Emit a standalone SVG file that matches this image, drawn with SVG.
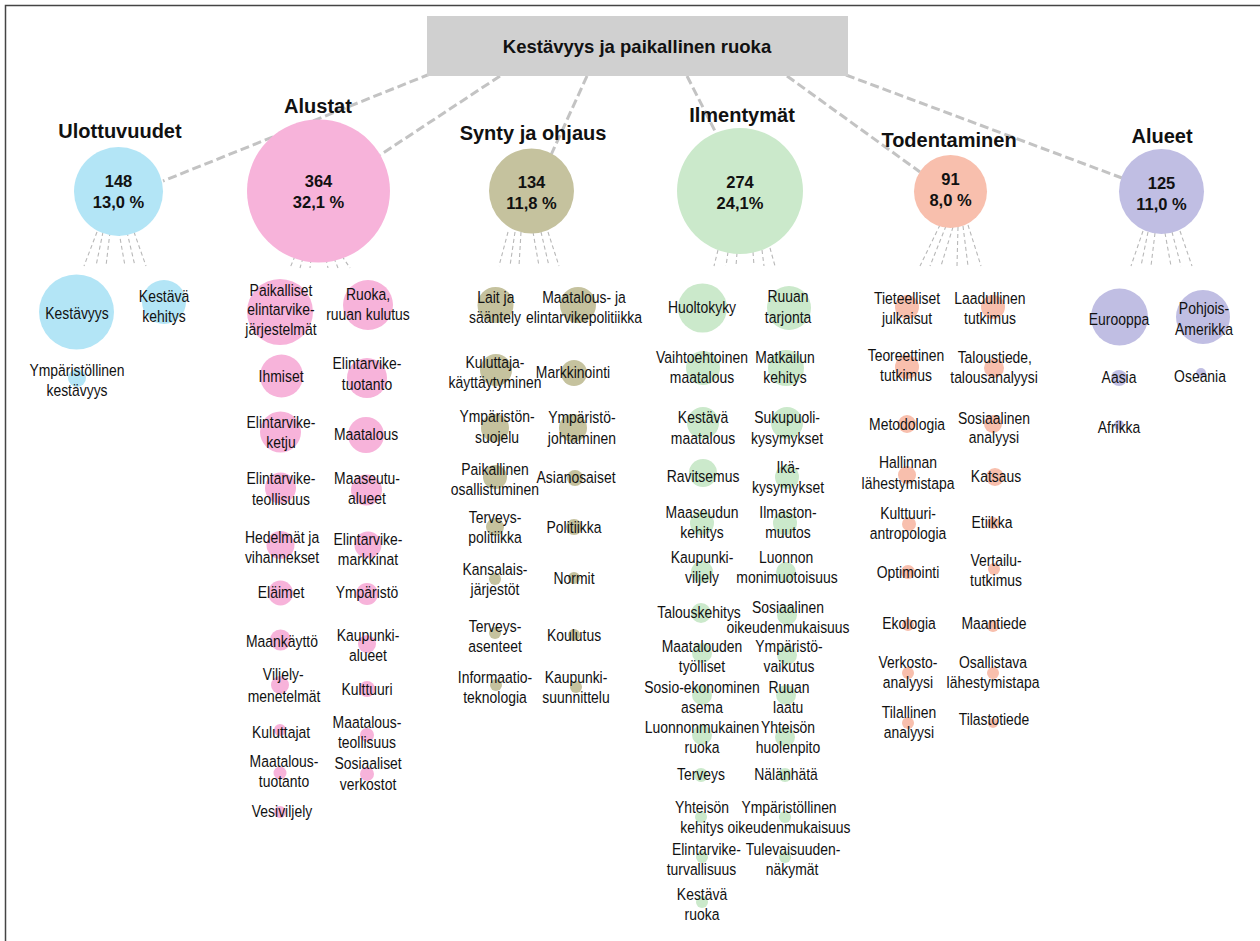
<svg xmlns="http://www.w3.org/2000/svg" width="1260" height="941" viewBox="0 0 1260 941">
<style>
.frame{fill:none;stroke:#444;stroke-width:1.5}
.main{stroke:#c3c3c3;stroke-width:3;stroke-dasharray:9 4;fill:none}
.sub{stroke:#b8b8b8;stroke-width:1.1;stroke-dasharray:4 3;fill:none}
.u{fill:#b3e5f6}.a{fill:#f7b3da}.s{fill:#c5c29e}.i{fill:#cbe9cb}.t{fill:#f8bfad}.r{fill:#c0bee3}
.cat{font-family:"Liberation Sans",Arial,sans-serif;font-weight:bold;font-size:20px;text-anchor:middle;fill:#111}
.num{font-family:"Liberation Sans",Arial,sans-serif;font-weight:bold;font-size:16.5px;text-anchor:middle;fill:#111}
.lbl{font-family:"Liberation Sans",Arial,sans-serif;font-size:17px;text-anchor:middle;fill:#111;transform-box:fill-box;transform-origin:center;transform:scaleX(0.82)}
.title{font-family:"Liberation Sans",Arial,sans-serif;font-weight:bold;font-size:18.5px;text-anchor:middle;fill:#111}
</style>
<rect class="frame" x="5.5" y="5.5" width="1300" height="1000"/>
<g id="connectors">
<line class="main" x1="430" y1="74" x2="163" y2="181"/>
<line class="main" x1="500" y1="76" x2="380" y2="155"/>
<line class="main" x1="587" y1="76" x2="551" y2="155"/>
<line class="main" x1="687" y1="76" x2="716" y2="133"/>
<line class="main" x1="787" y1="76" x2="920" y2="172"/>
<line class="main" x1="846" y1="75" x2="1122" y2="178"/>
<path class="sub" d="M97 232L84 266M103 232L96 266M110 232L106 266M119 232L125 266M127 232L135 266M134 232L146 266"/>
<path class="sub" d="M295 256L290 268M303 258L300 268M311 259L310 268M326 259L328 268M334 258L338 268M342 256L350 268"/>
<path class="sub" d="M508 232L499 266M515 232L510 266M521 232L519 266M533 232L539 266M541 232L549 266M548 232L559 266"/>
<path class="sub" d="M718 250L714 266M728 252L726 266M737 253L736 266M753 252L754 266M762 250L764 266M770 248L775 266"/>
<path class="sub" d="M940 225L920 266M946 226L930 266M953 227L941 266M958 227L957 266M963 226L968 266M968 225L981 266"/>
<path class="sub" d="M1143 231L1131 266M1148 232L1141 266M1155 233L1151 266M1165 233L1171 266M1172 232L1181 266M1180 231L1192 266"/>
</g>
<g id="root">
<rect x="427" y="16" width="421" height="60" fill="#d0d0d0"/>
<text class="title" x="637" y="53">Kestävyys ja paikallinen ruoka</text>
</g>
<g id="cat-ulottuvuudet">
<text class="cat" x="120" y="138">Ulottuvuudet</text>
<circle class="u" cx="118.5" cy="191.5" r="44.5"/>
<text class="num" x="118.5" y="187">148</text><text class="num" x="118.5" y="208">13,0 %</text>
</g>
<g id="cat-alustat">
<text class="cat" x="318" y="113">Alustat</text>
<circle class="a" cx="318.5" cy="191" r="71.5"/>
<text class="num" x="318.5" y="187">364</text><text class="num" x="318.5" y="208">32,1 %</text>
</g>
<g id="cat-synty">
<text class="cat" x="533" y="140">Synty ja ohjaus</text>
<circle class="s" cx="531.5" cy="191" r="42.5"/>
<text class="num" x="531.5" y="188">134</text><text class="num" x="531.5" y="209">11,8 %</text>
</g>
<g id="cat-ilmentymat">
<text class="cat" x="742" y="122">Ilmentymät</text>
<circle class="i" cx="740" cy="191" r="63"/>
<text class="num" x="740" y="188">274</text><text class="num" x="740" y="209">24,1%</text>
</g>
<g id="cat-todentaminen">
<text class="cat" x="949" y="147">Todentaminen</text>
<circle class="t" cx="950.5" cy="191.5" r="36.5"/>
<text class="num" x="950.5" y="185">91</text><text class="num" x="950.5" y="206">8,0 %</text>
</g>
<g id="cat-alueet">
<text class="cat" x="1162" y="143">Alueet</text>
<circle class="r" cx="1161.5" cy="191.5" r="42.5"/>
<text class="num" x="1161.5" y="189">125</text><text class="num" x="1161.5" y="210">11,0 %</text>
</g>
<!-- Ulottuvuudet children -->
<g id="u1"><circle class="u" cx="76.5" cy="312" r="37.5"/><text class="lbl" x="77" y="319">Kestävyys</text></g>
<g id="u2"><circle class="u" cx="164" cy="302" r="22"/><text class="lbl" y="302"><tspan x="164">Kestävä</tspan><tspan x="164" y="322">kehitys</tspan></text></g>
<g id="u3"><circle class="u" cx="77" cy="378" r="9"/><text class="lbl" y="376"><tspan x="77">Ympäristöllinen</tspan><tspan x="77" y="396">kestävyys</tspan></text></g>
<!-- Alustat children -->
<g id="a1"><circle class="a" cx="280" cy="312" r="33"/><text class="lbl" y="296"><tspan x="281">Paikalliset</tspan><tspan x="281" y="315">elintarvike-</tspan><tspan x="281" y="335">järjestelmät</tspan></text></g>
<g id="a2"><circle class="a" cx="368" cy="305" r="25"/><text class="lbl" y="300"><tspan x="368">Ruoka,</tspan><tspan x="368" y="320">ruuan kulutus</tspan></text></g>
<g id="a3"><circle class="a" cx="281.5" cy="376" r="21.5"/><text class="lbl" x="281" y="382">Ihmiset</text></g>
<g id="a4"><circle class="a" cx="367" cy="378" r="20"/><text class="lbl" y="369"><tspan x="367">Elintarvike-</tspan><tspan x="367" y="390">tuotanto</tspan></text></g>
<g id="a5"><circle class="a" cx="280.5" cy="432" r="20.5"/><text class="lbl" y="428"><tspan x="281">Elintarvike-</tspan><tspan x="281" y="448">ketju</tspan></text></g>
<g id="a6"><circle class="a" cx="366" cy="435" r="18"/><text class="lbl" x="366" y="440">Maatalous</text></g>
<g id="a7"><circle class="a" cx="280.5" cy="488" r="15.5"/><text class="lbl" y="484"><tspan x="281">Elintarvike-</tspan><tspan x="281" y="505">teollisuus</tspan></text></g>
<g id="a8"><circle class="a" cx="366.5" cy="490" r="15.5"/><text class="lbl" y="484"><tspan x="367">Maaseutu-</tspan><tspan x="367" y="504">alueet</tspan></text></g>
<g id="a9"><circle class="a" cx="280.5" cy="545" r="14"/><text class="lbl" y="543"><tspan x="282">Hedelmät ja</tspan><tspan x="282" y="563">vihannekset</tspan></text></g>
<g id="a10"><circle class="a" cx="368" cy="545" r="13.5"/><text class="lbl" y="545"><tspan x="368">Elintarvike-</tspan><tspan x="368" y="565">markkinat</tspan></text></g>
<g id="a11"><circle class="a" cx="280.5" cy="593" r="12.5"/><text class="lbl" x="281" y="598">Eläimet</text></g>
<g id="a12"><circle class="a" cx="367" cy="594" r="11"/><text class="lbl" x="367" y="598">Ympäristö</text></g>
<g id="a13"><circle class="a" cx="280.5" cy="640" r="10.5"/><text class="lbl" x="282" y="647">Maankäyttö</text></g>
<g id="a14"><circle class="a" cx="367" cy="644" r="9"/><text class="lbl" y="641"><tspan x="368">Kaupunki-</tspan><tspan x="368" y="661">alueet</tspan></text></g>
<g id="a15"><circle class="a" cx="280" cy="685" r="9"/><text class="lbl" y="680"><tspan x="283">Viljely-</tspan><tspan x="284" y="702">menetelmät</tspan></text></g>
<g id="a16"><circle class="a" cx="367" cy="689" r="8"/><text class="lbl" x="367" y="695">Kulttuuri</text></g>
<g id="a17"><circle class="a" cx="280" cy="730" r="6"/><text class="lbl" x="281" y="738">Kuluttajat</text></g>
<g id="a18"><circle class="a" cx="367" cy="735" r="7"/><text class="lbl" y="728"><tspan x="367">Maatalous-</tspan><tspan x="367" y="748">teollisuus</tspan></text></g>
<g id="a19"><circle class="a" cx="280" cy="773" r="6.5"/><text class="lbl" y="767"><tspan x="284">Maatalous-</tspan><tspan x="284" y="787">tuotanto</tspan></text></g>
<g id="a20"><circle class="a" cx="367" cy="774" r="7"/><text class="lbl" y="769"><tspan x="368">Sosiaaliset</tspan><tspan x="368" y="790">verkostot</tspan></text></g>
<g id="a21"><circle class="a" cx="280" cy="812" r="6"/><text class="lbl" x="282" y="817">Vesiviljely</text></g>
<!-- Synty ja ohjaus children -->
<g id="s1"><circle class="s" cx="495.5" cy="305" r="18"/><text class="lbl" y="303"><tspan x="496">Lait ja</tspan><tspan x="495" y="323">sääntely</tspan></text></g>
<g id="s2"><circle class="s" cx="578" cy="305" r="18"/><text class="lbl" y="303"><tspan x="584">Maatalous- ja</tspan><tspan x="584" y="323">elintarvikepolitiikka</tspan></text></g>
<g id="s3"><circle class="s" cx="496" cy="370" r="16"/><text class="lbl" y="368"><tspan x="495">Kuluttaja-</tspan><tspan x="495" y="388">käyttäytyminen</tspan></text></g>
<g id="s4"><circle class="s" cx="574" cy="373" r="13"/><text class="lbl" x="573" y="378">Markkinointi</text></g>
<g id="s5"><circle class="s" cx="495" cy="428" r="14"/><text class="lbl" y="422"><tspan x="497">Ympäristön-</tspan><tspan x="497" y="443">suojelu</tspan></text></g>
<g id="s6"><circle class="s" cx="573" cy="428" r="14"/><text class="lbl" y="423"><tspan x="582">Ympäristö-</tspan><tspan x="582" y="444">johtaminen</tspan></text></g>
<g id="s7"><circle class="s" cx="495" cy="477" r="12"/><text class="lbl" y="475"><tspan x="495">Paikallinen</tspan><tspan x="495" y="495">osallistuminen</tspan></text></g>
<g id="s8"><circle class="s" cx="575" cy="478" r="8"/><text class="lbl" x="576" y="483">Asianosaiset</text></g>
<g id="s9"><circle class="s" cx="495" cy="527" r="9"/><text class="lbl" y="523"><tspan x="495">Terveys-</tspan><tspan x="495" y="543">politiikka</tspan></text></g>
<g id="s10"><circle class="s" cx="574" cy="527" r="8"/><text class="lbl" x="574" y="533">Politiikka</text></g>
<g id="s11"><circle class="s" cx="495" cy="579" r="6"/><text class="lbl" y="575"><tspan x="495">Kansalais-</tspan><tspan x="495" y="595">järjestöt</tspan></text></g>
<g id="s12"><circle class="s" cx="574" cy="578" r="6"/><text class="lbl" x="574" y="584">Normit</text></g>
<g id="s13"><circle class="s" cx="495" cy="633" r="6"/><text class="lbl" y="632"><tspan x="495">Terveys-</tspan><tspan x="495" y="652">asenteet</tspan></text></g>
<g id="s14"><circle class="s" cx="574" cy="635" r="6"/><text class="lbl" x="574" y="641">Koulutus</text></g>
<g id="s15"><circle class="s" cx="496" cy="685" r="6"/><text class="lbl" y="683"><tspan x="495">Informaatio-</tspan><tspan x="495" y="703">teknologia</tspan></text></g>
<g id="s16"><circle class="s" cx="576" cy="687" r="6"/><text class="lbl" y="683"><tspan x="576">Kaupunki-</tspan><tspan x="576" y="703">suunnittelu</tspan></text></g>
<!-- Ilmentymät children -->
<g id="i1"><circle class="i" cx="702.5" cy="308" r="24.5"/><text class="lbl" x="702" y="313">Huoltokyky</text></g>
<g id="i2"><circle class="i" cx="789" cy="308" r="22"/><text class="lbl" y="302"><tspan x="788">Ruuan</tspan><tspan x="788" y="323">tarjonta</tspan></text></g>
<g id="i3"><circle class="i" cx="703" cy="368" r="17"/><text class="lbl" y="363"><tspan x="702">Vaihtoehtoinen</tspan><tspan x="702" y="383">maatalous</tspan></text></g>
<g id="i4"><circle class="i" cx="786" cy="368" r="18"/><text class="lbl" y="363"><tspan x="785">Matkailun</tspan><tspan x="785" y="383">kehitys</tspan></text></g>
<g id="i5"><circle class="i" cx="703" cy="423" r="16"/><text class="lbl" y="423"><tspan x="703">Kestävä</tspan><tspan x="703" y="444">maatalous</tspan></text></g>
<g id="i6"><circle class="i" cx="787" cy="423" r="16"/><text class="lbl" y="423"><tspan x="787">Sukupuoli-</tspan><tspan x="787" y="444">kysymykset</tspan></text></g>
<g id="i7"><circle class="i" cx="703" cy="473" r="14"/><text class="lbl" x="703" y="482">Ravitsemus</text></g>
<g id="i8"><circle class="i" cx="787" cy="477" r="12"/><text class="lbl" y="473"><tspan x="788">Ikä-</tspan><tspan x="788" y="493">kysymykset</tspan></text></g>
<g id="i9"><circle class="i" cx="702" cy="523" r="12"/><text class="lbl" y="518"><tspan x="702">Maaseudun</tspan><tspan x="702" y="538">kehitys</tspan></text></g>
<g id="i10"><circle class="i" cx="785" cy="523" r="12"/><text class="lbl" y="518"><tspan x="788">Ilmaston-</tspan><tspan x="788" y="538">muutos</tspan></text></g>
<g id="i11"><circle class="i" cx="702" cy="572" r="11"/><text class="lbl" y="563"><tspan x="702">Kaupunki-</tspan><tspan x="702" y="583">viljely</tspan></text></g>
<g id="i12"><circle class="i" cx="786" cy="572" r="10"/><text class="lbl" y="563"><tspan x="786">Luonnon</tspan><tspan x="787" y="583">monimuotoisuus</tspan></text></g>
<g id="i13"><circle class="i" cx="701" cy="613" r="10"/><text class="lbl" x="699" y="618">Talouskehitys</text></g>
<g id="i14"><circle class="i" cx="787" cy="615" r="10"/><text class="lbl" y="613"><tspan x="788">Sosiaalinen</tspan><tspan x="788" y="633">oikeudenmukaisuus</tspan></text></g>
<g id="i15"><circle class="i" cx="702" cy="653" r="10"/><text class="lbl" y="652"><tspan x="702">Maatalouden</tspan><tspan x="702" y="672">työlliset</tspan></text></g>
<g id="i16"><circle class="i" cx="787" cy="655" r="10"/><text class="lbl" y="652"><tspan x="789">Ympäristö-</tspan><tspan x="789" y="672">vaikutus</tspan></text></g>
<g id="i17"><circle class="i" cx="702" cy="695" r="10"/><text class="lbl" y="693"><tspan x="702">Sosio-ekonominen</tspan><tspan x="702" y="713">asema</tspan></text></g>
<g id="i18"><circle class="i" cx="786" cy="695" r="10"/><text class="lbl" y="693"><tspan x="789">Ruuan</tspan><tspan x="788" y="713">laatu</tspan></text></g>
<g id="i19"><circle class="i" cx="702" cy="735" r="10"/><text class="lbl" y="733"><tspan x="702">Luonnonmukainen</tspan><tspan x="702" y="753">ruoka</tspan></text></g>
<g id="i20"><circle class="i" cx="785" cy="737" r="10"/><text class="lbl" y="733"><tspan x="788">Yhteisön</tspan><tspan x="788" y="753">huolenpito</tspan></text></g>
<g id="i21"><circle class="i" cx="701" cy="775" r="7"/><text class="lbl" x="701" y="780">Terveys</text></g>
<g id="i22"><circle class="i" cx="785" cy="775" r="7"/><text class="lbl" x="786" y="780">Nälänhätä</text></g>
<g id="i23"><circle class="i" cx="701" cy="817" r="6"/><text class="lbl" y="813"><tspan x="702">Yhteisön</tspan><tspan x="702" y="833">kehitys</tspan></text></g>
<g id="i24"><circle class="i" cx="785" cy="817" r="6"/><text class="lbl" y="813"><tspan x="789">Ympäristöllinen</tspan><tspan x="789" y="833">oikeudenmukaisuus</tspan></text></g>
<g id="i25"><circle class="i" cx="702" cy="857" r="6"/><text class="lbl" y="855"><tspan x="707">Elintarvike-</tspan><tspan x="701" y="875">turvallisuus</tspan></text></g>
<g id="i26"><circle class="i" cx="785" cy="857" r="6"/><text class="lbl" y="855"><tspan x="793">Tulevaisuuden-</tspan><tspan x="792" y="875">näkymät</tspan></text></g>
<g id="i27"><circle class="i" cx="702" cy="902" r="6"/><text class="lbl" y="900"><tspan x="702">Kestävä</tspan><tspan x="702" y="920">ruoka</tspan></text></g>
<!-- Todentaminen children -->
<g id="t1"><circle class="t" cx="907" cy="307" r="12"/><text class="lbl" y="304"><tspan x="907">Tieteelliset</tspan><tspan x="907" y="324">julkaisut</tspan></text></g>
<g id="t2"><circle class="t" cx="993" cy="307" r="12"/><text class="lbl" y="304"><tspan x="990">Laadullinen</tspan><tspan x="990" y="324">tutkimus</tspan></text></g>
<g id="t3"><circle class="t" cx="907" cy="367" r="12"/><text class="lbl" y="361"><tspan x="906">Teoreettinen</tspan><tspan x="906" y="381">tutkimus</tspan></text></g>
<g id="t4"><circle class="t" cx="994" cy="368" r="10"/><text class="lbl" y="363"><tspan x="995">Taloustiede,</tspan><tspan x="994" y="383">talousanalyysi</tspan></text></g>
<g id="t5"><circle class="t" cx="907" cy="424" r="9"/><text class="lbl" x="907" y="430">Metodologia</text></g>
<g id="t6"><circle class="t" cx="993" cy="424" r="9"/><text class="lbl" y="424"><tspan x="994">Sosiaalinen</tspan><tspan x="994" y="443">analyysi</tspan></text></g>
<g id="t7"><circle class="t" cx="907" cy="475" r="9"/><text class="lbl" y="468"><tspan x="908">Hallinnan</tspan><tspan x="908" y="489">lähestymistapa</tspan></text></g>
<g id="t8"><circle class="t" cx="995" cy="477" r="9"/><text class="lbl" x="996" y="482">Katsaus</text></g>
<g id="t9"><circle class="t" cx="909" cy="524" r="7"/><text class="lbl" y="519"><tspan x="908">Kulttuuri-</tspan><tspan x="908" y="539">antropologia</tspan></text></g>
<g id="t10"><circle class="t" cx="993" cy="523" r="6"/><text class="lbl" x="992" y="528">Etiikka</text></g>
<g id="t11"><circle class="t" cx="908" cy="572" r="7"/><text class="lbl" x="908" y="578">Optimointi</text></g>
<g id="t12"><circle class="t" cx="994" cy="569" r="6"/><text class="lbl" y="566"><tspan x="996">Vertailu-</tspan><tspan x="996" y="586">tutkimus</tspan></text></g>
<g id="t13"><circle class="t" cx="908" cy="625" r="6"/><text class="lbl" x="909" y="629">Ekologia</text></g>
<g id="t14"><circle class="t" cx="993" cy="626" r="6"/><text class="lbl" x="994" y="629">Maantiede</text></g>
<g id="t15"><circle class="t" cx="908" cy="673" r="6"/><text class="lbl" y="668"><tspan x="908">Verkosto-</tspan><tspan x="908" y="688">analyysi</tspan></text></g>
<g id="t16"><circle class="t" cx="993" cy="673" r="6"/><text class="lbl" y="668"><tspan x="993">Osallistava</tspan><tspan x="993" y="688">lähestymistapa</tspan></text></g>
<g id="t17"><circle class="t" cx="908" cy="723" r="6"/><text class="lbl" y="718"><tspan x="909">Tilallinen</tspan><tspan x="909" y="738">analyysi</tspan></text></g>
<g id="t18"><circle class="t" cx="993" cy="723" r="5"/><text class="lbl" x="994" y="725">Tilastotiede</text></g>
<!-- Alueet children -->
<g id="r1"><circle class="r" cx="1119.5" cy="317" r="28.5"/><text class="lbl" x="1119" y="325">Eurooppa</text></g>
<g id="r2"><circle class="r" cx="1203" cy="317" r="27"/><text class="lbl" y="314"><tspan x="1204">Pohjois-</tspan><tspan x="1204" y="335">Amerikka</tspan></text></g>
<g id="r3"><circle class="r" cx="1119" cy="378" r="8"/><text class="lbl" x="1119" y="383">Aasia</text></g>
<g id="r4"><circle class="r" cx="1201" cy="373" r="5"/><text class="lbl" x="1200" y="382">Oseania</text></g>
<g id="r5"><circle class="r" cx="1119" cy="425" r="5"/><text class="lbl" x="1119" y="433">Afrikka</text></g>
</svg>
